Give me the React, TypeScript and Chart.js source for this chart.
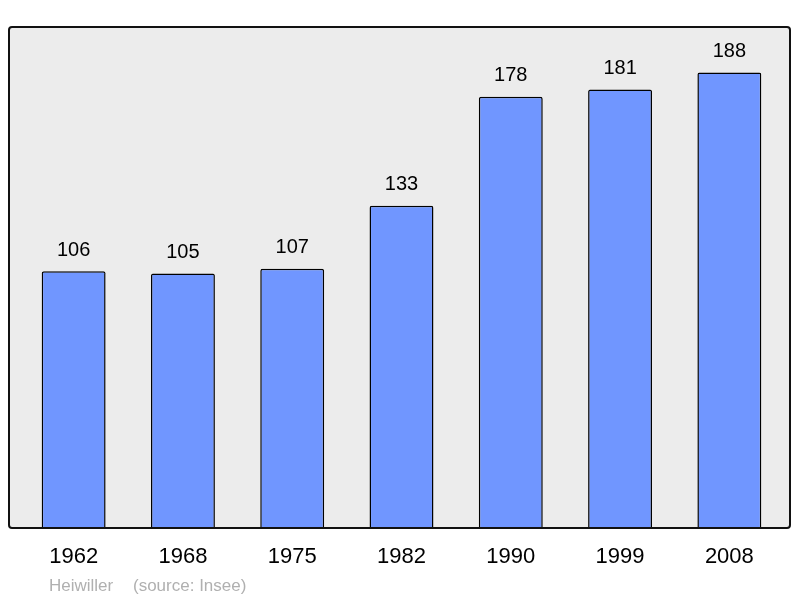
import React, { useEffect, useRef } from "react";
import { Chart, registerables } from "chart.js";

Chart.register(...registerables);

const years = ["1962", "1968", "1975", "1982", "1990", "1999", "2008"];
const population = [106, 105, 107, 133, 178, 181, 188];
const author = "Heiwiller";
const source = "(source: Insee)";

const FONT = "'Liberation Sans', Arial, sans-serif";

const decorPlugin = {
  id: "decor",
  beforeDraw(chart: any) {
    const { ctx, chartArea } = chart;
    const l = chartArea.left - 10;
    const r = chartArea.right + 6;
    const t = chartArea.top;
    const b = chartArea.bottom;
    ctx.save();
    ctx.beginPath();
    ctx.roundRect(l, t, r - l, b - t, 3);
    ctx.fillStyle = "#ececec";
    ctx.fill();
    ctx.restore();
  },
  afterDatasetsDraw(chart: any) {
    const { ctx, chartArea } = chart;
    const l = chartArea.left - 10;
    const r = chartArea.right + 6;
    const t = chartArea.top;
    const b = chartArea.bottom;
    ctx.save();
    ctx.beginPath();
    ctx.roundRect(l, t, r - l, b - t, 3);
    ctx.lineWidth = 2;
    ctx.strokeStyle = "#111";
    ctx.stroke();

    const meta = chart.getDatasetMeta(0);
    ctx.fillStyle = "#000";
    ctx.font = `20px ${FONT}`;
    ctx.textAlign = "center";
    ctx.textBaseline = "middle";
    meta.data.forEach((bar: any, i: number) => {
      ctx.fillText(String(population[i]), bar.x, bar.y - 21);
    });

    ctx.fillStyle = "#b0b0b0";
    ctx.font = `17px ${FONT}`;
    ctx.textAlign = "left";
    ctx.fillText(author, l + 40, b + 58);
    ctx.fillText(source, l + 124, b + 58);
    ctx.restore();
  },
};

export default function App() {
  const ref = useRef<HTMLCanvasElement>(null);
  useEffect(() => {
    document.body.style.margin = "0";
    const chart = new Chart(ref.current!, {
      type: "bar",
      data: {
        labels: years,
        datasets: [
          {
            data: population,
            backgroundColor: "#7096ff",
            borderColor: "#000",
            borderWidth: 1.5,
            borderRadius: 2,
            borderSkipped: "bottom",
            barPercentage: 0.585,
            categoryPercentage: 1,
          },
        ],
      },
      options: {
        responsive: false,
        animation: false,
        layout: { padding: { left: 19, right: 16, top: 27, bottom: 11.6 } },
        plugins: { legend: { display: false }, tooltip: { enabled: false } },
        scales: {
          x: {
            grid: { display: false, drawTicks: false },
            border: { display: false },
            ticks: {
              color: "#000",
              font: { family: FONT, size: 22 },
              padding: 16,
              maxRotation: 0,
            },
          },
          y: {
            display: false,
            min: 0,
            max: 206.8,
          },
        },
      },
      plugins: [decorPlugin],
    });
    return () => chart.destroy();
  }, []);
  return (
    <div style={{ width: 800, height: 598 }}>
      <canvas ref={ref} width={800} height={598} style={{ display: "block" }} />
    </div>
  );
}
